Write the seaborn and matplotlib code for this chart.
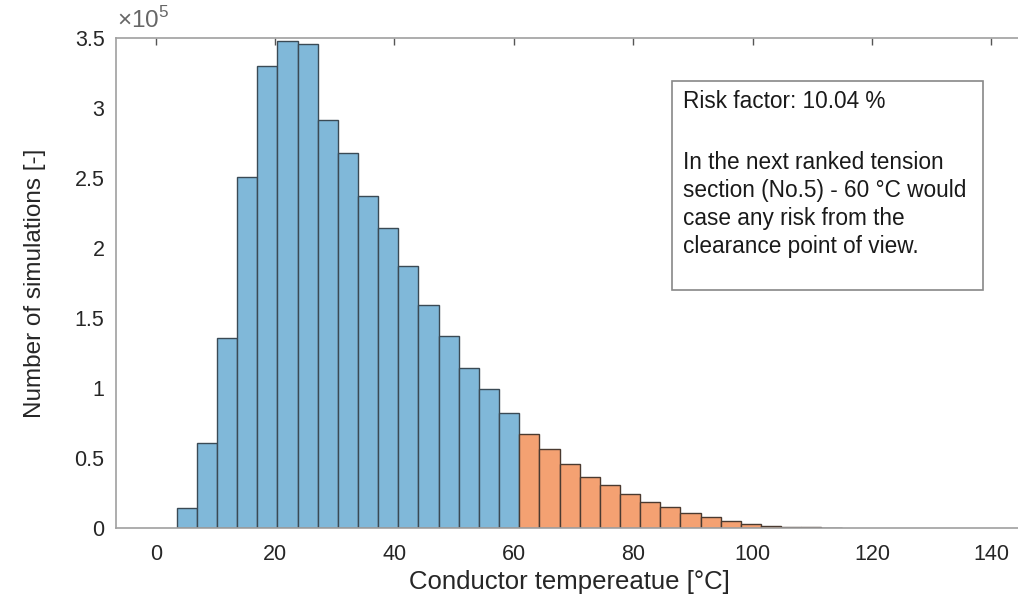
import numpy as np
import pandas as pd
import seaborn as sns
import matplotlib.pyplot as plt
from matplotlib.patches import Rectangle
from matplotlib.ticker import FuncFormatter

# histogram bin layout (deg C)
bin_start = 3.52
bin_width = 3.375

# counts per bin, below / above the 60 degC limit
counts_safe = [14700, 60800, 135800, 250400, 329800, 347300, 345400, 291500, 267500,
               236900, 214100, 186800, 159000, 137000, 114700, 99700, 82600]
counts_risk = [67200, 56300, 45800, 36800, 30600, 24400, 18700, 15000, 11100,
               7800, 5200, 3100, 1700, 1000, 600, 400]

x_ticks = [0, 20, 40, 60, 80, 100, 120, 140]
y_ticks = [0, 50000, 100000, 150000, 200000, 250000, 300000, 350000]

risk_line = "Risk factor: 10.04 %"
note_text = ("In the next ranked tension\n"
             "section (No.5) - 60 \u00b0C would\n"
             "case any risk from the\n"
             "clearance point of view.")

n_all = len(counts_safe) + len(counts_risk)
edges = (bin_start + bin_width * np.arange(n_all + 1)).tolist()
centers = [(a + b) / 2 for a, b in zip(edges[:-1], edges[1:])]
df = pd.DataFrame({
    "temp": centers,
    "count": counts_safe + counts_risk,
    "group": ["safe"] * len(counts_safe) + ["risk"] * len(counts_risk),
})

sns.set_style("white")
plt.rcParams["font.family"] = ["Liberation Sans", "DejaVu Sans"]
plt.rcParams["mathtext.fontset"] = "custom"
plt.rcParams["mathtext.rm"] = "Liberation Sans"

fig = plt.figure(figsize=(10.18, 6.04), dpi=100)
W, H = 1018, 604
ax_w = 1100 - 115.7
ax = fig.add_axes([115.7 / W, 1 - 528.3 / H, ax_w / W, (528.3 - 37.7) / H])

sns.histplot(data=df[df.group == "safe"], x="temp", weights="count", bins=edges,
             color="#80b8d9", alpha=1, edgecolor="#3a4a55", linewidth=1, ax=ax)
sns.histplot(data=df[df.group == "risk"], x="temp", weights="count", bins=edges,
             color="#f4a172", alpha=1, edgecolor="#4a3a30", linewidth=1, ax=ax)

ax.set_xlim(-6.7, -6.7 + ax_w / 5.97)
ax.set_ylim(0, 350000)
ax.set_xticks(x_ticks)
ax.set_yticks(y_ticks)
ax.yaxis.set_major_formatter(FuncFormatter(lambda v, p: f"{v / 1e5:g}"))
ax.tick_params(direction="in", length=5, width=1, color="#555555", labelsize=15.5,
               labelcolor="#262626", top=True, right=False)
ax.tick_params(axis="x", pad=11)
ax.tick_params(axis="y", pad=8)
for s in ax.spines.values():
    s.set_color("#a0a0a0")
    s.set_linewidth(1.2)
ax.spines["right"].set_visible(False)

ax.set_xlabel("Conductor tempereatue [\u00b0C]", fontsize=18.5, color="#262626")
ax.set_ylabel("Number of simulations [-]", fontsize=17.5, color="#262626")
ax.xaxis.set_label_coords((569.5 - 115.7) / ax_w, -(570 - 528.3) / 490.6)
ax.yaxis.set_label_coords(-(115.7 - 46) / ax_w, 0.5)

fig.text(117 / W, 1 - 20 / H, r"$\times 10^{5}$", fontsize=17.5, color="#666666",
         ha="left", va="center")

fig.patches.append(Rectangle((672 / W, 1 - 290 / H), (983 - 672) / W, (290 - 81) / H,
                             transform=fig.transFigure, facecolor="white",
                             edgecolor="#888888", linewidth=1.2, zorder=5))
fig.text(683 / W, 1 - 102 / H, risk_line, fontsize=16.3, color="#1a1a1a", ha="left",
         va="center", zorder=6)
fig.text(683 / W, 1 - 151 / H, note_text, fontsize=16.3, color="#1a1a1a", ha="left",
         va="top", linespacing=1.28, zorder=6)

fig.savefig("out.png", dpi=100)
